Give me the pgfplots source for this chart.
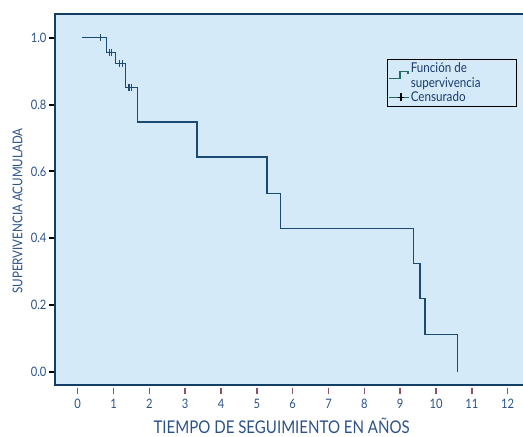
\documentclass[border=0pt]{standalone}
\usepackage{fontspec}
\setmainfont{Lato}[FakeStretch=0.86]
\usepackage{pgfplots}
\pgfplotsset{compat=1.18}
\definecolor{bgblue}{HTML}{D5EAF9}
\definecolor{framenavy}{HTML}{123E66}
\definecolor{curve}{HTML}{1D4A75}
\definecolor{ticklab}{HTML}{2A5289}
\definecolor{mauve}{HTML}{8E5066}
\definecolor{legteal}{HTML}{1F6E5E}
\definecolor{legtext}{HTML}{1A3A6A}
\begin{document}
\begin{tikzpicture}[x=1pt,y=1pt]
\useasboundingbox (0,0) rectangle (523,437);
\clip (0,0) rectangle (523,437);
\begin{axis}[
  at={(55pt,52pt)}, anchor=south west,
  scale only axis, width=474.2pt, height=371pt,
  xmin=-0.634, xmax=12.6, ymin=-0.0389, ymax=1.0709,
  axis background/.style={fill=bgblue},
  axis line style={draw=framenavy, line width=2.5pt},
  xtick={0,1,...,12}, ytick={0,0.2,0.4,0.6,0.8,1.0},
  xtick pos=bottom, ytick pos=left, tick align=outside,
  x tick style={draw=mauve, line width=1.5pt, yshift=-3pt},
  y tick style={draw=black, line width=2pt},
  major tick length=6pt,
  /pgf/number format/assume math mode=true,
  yticklabel style={/pgf/number format/fixed, /pgf/number format/precision=1, /pgf/number format/fixed zerofill, font=\fontsize{13}{15}\selectfont, text=ticklab, xshift=1pt},
  xticklabel style={font=\fontsize{13}{15}\selectfont, text=ticklab, yshift=-5pt},
  xlabel={TIEMPO DE SEGUIMIENTO EN AÑOS},
  xlabel style={at={(rel axis cs:0.478,-0.111)}, anchor=center, inner sep=0pt, font=\fontsize{17.5}{19}\selectfont, text=ticklab},
  ylabel={SUPERVIVENCIA ACUMULADA},
  ylabel style={at={(rel axis cs:-0.079,0.469)}, anchor=center, rotate=0, font=\fontsize{13.5}{15}\selectfont, text=ticklab},
  legend cell align=left,
  legend style={at={(rel axis cs:0.700,0.879)}, anchor=north west, draw=black, line width=0.6pt, fill=bgblue,
    font=\fontsize{13.5}{15}\selectfont, text=legtext, inner xsep=1pt, inner ysep=2pt, row sep=1pt,
    nodes={align=left, inner sep=1pt}},
]
\addlegendimage{legend image code/.code={\draw[legteal, line width=1.6pt] (0pt,-3pt) -- (11pt,-3pt) -- (11pt,4pt) -- (19pt,4pt) -- (19pt,1pt);}}
\addlegendentry{Función de\\supervivencia}
\addlegendimage{legend image code/.code={\draw[legteal, line width=1.6pt] (0pt,0pt) -- (20pt,0pt); \draw[black, line width=1.4pt] (12pt,-4pt) -- (12pt,4pt) (9pt,0pt) -- (15pt,0pt);}}
\addlegendentry{\makebox[103pt][l]{Censurado}}
\addplot[const plot, draw=curve, line width=1.2pt, forget plot] coordinates {
(0.11,1.0) (0.81,0.956) (1.06,0.923) (1.33,0.852) (1.66,0.748) (3.33,0.643)
(5.28,0.535) (5.67,0.43) (9.37,0.325) (9.55,0.219) (9.69,0.112) (10.6,0.0)};
\addplot[only marks, mark=|, mark size=3.5pt, mark options={draw=curve, line width=1.1pt}, forget plot] coordinates {
(0.64,1.0) (0.88,0.956) (0.95,0.956) (1.16,0.923) (1.24,0.923) (1.43,0.852) (1.50,0.852)};
\end{axis}
\end{tikzpicture}
\end{document}
